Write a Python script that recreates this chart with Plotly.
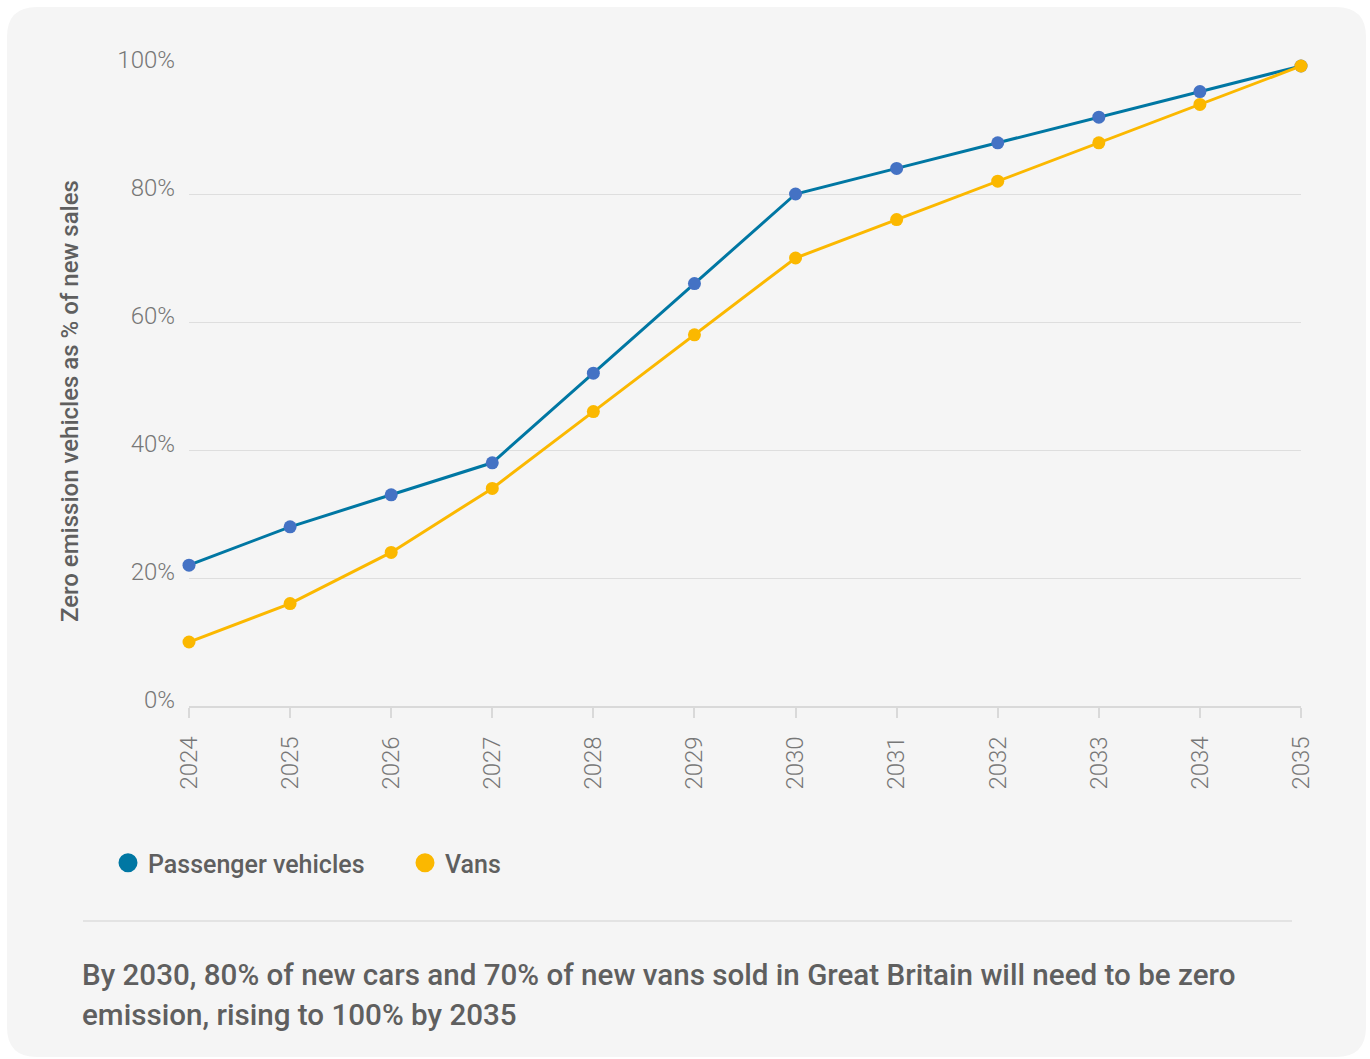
import plotly.graph_objects as go

years = [2024, 2025, 2026, 2027, 2028, 2029, 2030, 2031, 2032, 2033, 2034, 2035]
passenger = [22, 28, 33, 38, 52, 66, 80, 84, 88, 92, 96, 100]
vans = [10, 16, 24, 34, 46, 58, 70, 76, 82, 88, 94, 100]
series_names = ["Passenger vehicles", "Vans"]
y_ticks = [0, 20, 40, 60, 80, 100]
y_tick_labels = ["0%", "20%", "40%", "60%", "80%", "100%"]
y_title = "Zero emission vehicles as % of new sales"
caption_lines = [
    "By 2030, 80% of new cars and 70% of new vans sold in Great Britain will need to be zero",
    "emission, rising to 100% by 2035",
]

TEAL = "#0077a3"
MARK_BLUE = "#4472c4"
YELLOW = "#fbb800"
TXT = "#5f5f5f"
TICK = "#777777"
GRID = "#dedede"

W_PX, H_PX = 1370, 1059
L, R, T, B = 189, 1301, 66, 706
PW, PH = R - L, B - T


def X(px):
    return (px - L) / PW


def Y(py):
    return (B - py) / PH


fig = go.Figure()
fig.add_trace(go.Scatter(
    x=years, y=passenger, mode="lines+markers", name=series_names[0],
    line=dict(color=TEAL, width=3), marker=dict(color=MARK_BLUE, size=13),
    cliponaxis=False, showlegend=False))
fig.add_trace(go.Scatter(
    x=years, y=vans, mode="lines+markers", name=series_names[1],
    line=dict(color=YELLOW, width=3), marker=dict(color=YELLOW, size=13),
    cliponaxis=False, showlegend=False))
# legend entries (circle symbols)
fig.add_trace(go.Scatter(
    x=[None], y=[None], mode="markers", name=series_names[0],
    marker=dict(color=TEAL, size=16, line=dict(color=TEAL, width=3))))
fig.add_trace(go.Scatter(
    x=[None], y=[None], mode="markers", name=series_names[1],
    marker=dict(color=YELLOW, size=16, line=dict(color=YELLOW, width=3))))

# card background with rounded corners
x0, x1, y0, y1, r = 7, 1366, 7, 1057, 30
pts = [
    ("M", x0 + r, y0), ("L", x1 - r, y0), ("Q", x1, y0, x1, y0 + r),
    ("L", x1, y1 - r), ("Q", x1, y1, x1 - r, y1), ("L", x0 + r, y1),
    ("Q", x0, y1, x0, y1 - r), ("L", x0, y0 + r), ("Q", x0, y0, x0 + r, y0),
]
path = ""
for p in pts:
    cmd = p[0]
    coords = p[1:]
    segs = []
    for i in range(0, len(coords), 2):
        segs.append(f"{X(coords[i]):.5f},{Y(coords[i+1]):.5f}")
    path += cmd + " ".join(segs) + " "
path += "Z"

shapes = [
    dict(type="path", path=path, xref="paper", yref="paper",
         fillcolor="#f5f5f5", line=dict(width=0), layer="below"),
    dict(type="line", xref="paper", yref="paper", x0=X(83), x1=X(1292),
         y0=Y(921), y1=Y(921), line=dict(color="#dddddd", width=1.5)),
]

annotations = [
    dict(text=y_title, textangle=-90, xref="paper", yref="paper",
         x=X(70), y=Y(401), xanchor="center", yanchor="middle", showarrow=False,
         font=dict(family="Roboto", size=24, color=TXT, weight=500)),
]
for i, line in enumerate(caption_lines):
    annotations.append(dict(
        text=line, xref="paper", yref="paper", x=X(80), y=Y(975 + 40 * i),
        xanchor="left", yanchor="middle", showarrow=False,
        font=dict(family="Roboto", size=29.6, color=TXT, weight=500)))

fig.update_layout(
    width=W_PX, height=H_PX,
    margin=dict(l=L, r=W_PX - R, t=T, b=H_PX - B, pad=0),
    paper_bgcolor="white", plot_bgcolor="rgba(0,0,0,0)",
    shapes=shapes, annotations=annotations,
    showlegend=True,
    legend=dict(orientation="h", x=X(108), y=Y(863), xanchor="left", yanchor="middle",
                bgcolor="rgba(0,0,0,0)", entrywidth=252, entrywidthmode="pixels",
                font=dict(family="Roboto", size=25, color=TXT, weight=500),
                itemsizing="trace"),
    xaxis=dict(range=[2024, 2035], tickmode="array", tickvals=years,
               ticktext=[str(y) for y in years], tickangle=-90,
               showgrid=False, zeroline=False, showline=True, linecolor="#d9d9d9",
               linewidth=1.5, ticks="outside", ticklen=10, tickcolor="#d9d9d9",
               tickwidth=1.5, ticklabelstandoff=9,
               tickfont=dict(family="Roboto", size=24, color=TICK, weight=300)),
    yaxis=dict(range=[0, 100], tickmode="array", tickvals=y_ticks,
               ticktext=y_tick_labels, showgrid=True, gridcolor=GRID, gridwidth=1,
               zeroline=False, showline=False, ticks="", ticklabelstandoff=13,
               ticklabelshift=-6,
               tickfont=dict(family="Roboto", size=24, color=TICK, weight=300)),
)

fig.write_html("out.html")
